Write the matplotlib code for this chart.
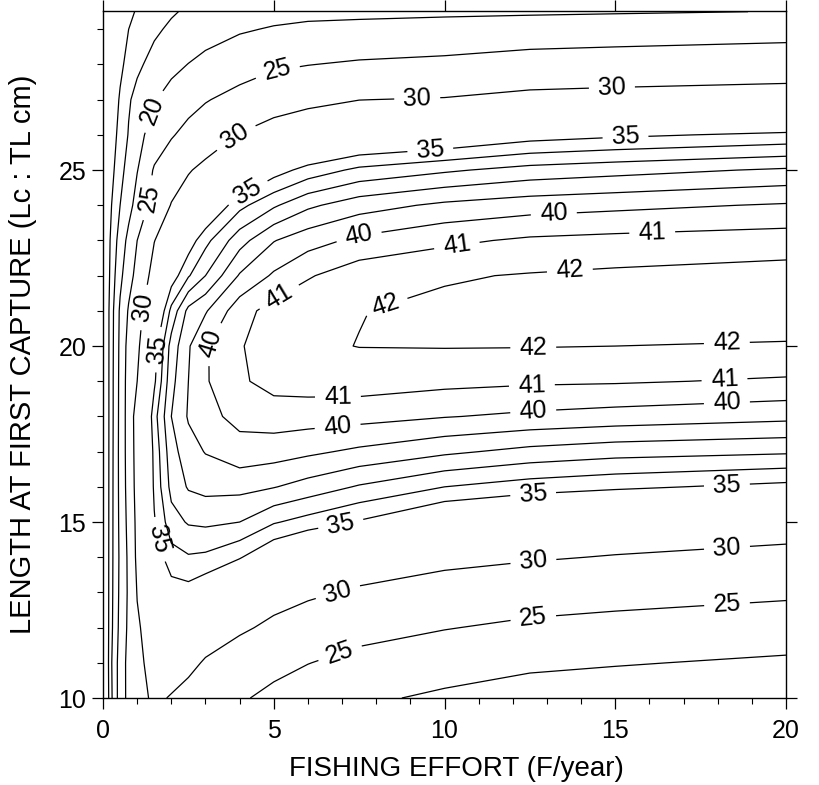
import numpy as np
import matplotlib.pyplot as plt

plt.rcParams['font.family'] = ['Liberation Sans', 'DejaVu Sans']

# fishing effort (F/year) - grid columns
effort = [0, 0.1, 0.25, 0.5, 0.75, 1, 1.5, 2, 2.5, 3, 4, 5, 6, 7.5, 10, 12.5, 15, 20]
# length at first capture (TL cm) - grid rows
lc = [10, 11, 12, 13, 14, 15, 16, 17, 18, 19, 20, 21, 22, 23, 24, 25, 26, 27, 28, 29, 29.5]

ypr = [
    [0, 6.5, 14.5, 22.6, 26.3, 28.4, 30.8, 29.7, 28.6, 27.6, 25.5, 23.9, 22.6, 20.8, 19.2, 17.8, 17.3, 16.2],
    [0, 6.8, 14.8, 22.5, 26.4, 28.8, 31.8, 32.1, 31.0, 29.6, 27.9, 26.3, 25.1, 23.7, 22.1, 20.9, 20.3, 19.3],
    [0, 6.8, 14.2, 21.6, 26.0, 29.4, 32.5, 33.4, 32.9, 32.2, 30.6, 29.2, 28.1, 26.5, 25.2, 24.1, 23.5, 22.5],
    [0, 6.8, 14.0, 21.2, 25.8, 30.2, 33.5, 34.5, 34.6, 34.1, 32.8, 31.5, 30.6, 29.5, 28.2, 27.3, 26.7, 25.75],
    [0, 6.8, 13.9, 21.0, 26.0, 31.0, 34.3, 35.6, 35.9, 35.8, 35.1, 33.9, 33.0, 32.2, 31.07, 30.37, 29.8, 28.9],
    [0, 6.8, 13.8, 21.3, 26.5, 31.2, 34.9, 36.6, 37.1, 37.2, 37.0, 36.1, 35.6, 34.9, 33.6, 33.0, 32.6, 31.85],
    [0, 6.8, 13.7, 21.5, 27.0, 31.6, 35.2, 37.3, 38.1, 38.3, 38.3, 38.05, 37.6, 36.9, 36.0, 35.5, 35.2, 34.7],
    [0, 6.8, 13.6, 21.6, 27.2, 31.8, 35.3, 37.6, 38.6, 39.05, 39.6, 39.45, 39.2, 38.8, 38.2, 37.7, 37.4, 37.15],
    [0, 6.8, 13.5, 21.5, 27.3, 32.0, 35.6, 38.0, 39.1, 39.7, 40.3, 40.5, 40.45, 40.35, 40.05, 39.8, 39.6, 39.28],
    [0, 6.8, 13.5, 21.4, 27.2, 30.0, 34.8, 37.7, 39.0, 39.9, 40.85, 41.35, 41.45, 41.5, 41.28, 41.15, 41.1, 40.87],
    [0, 6.8, 13.4, 21.2, 26.8, 29.3, 34.5, 37.4, 38.9, 39.9, 40.9, 41.65, 41.85, 42.02, 42.05, 42.04, 42.0, 41.93],
    [0, 6.8, 13.3, 20.8, 25.5, 28.5, 33.2, 36.3, 38.3, 38.9, 40.6, 41.4, 41.75, 41.97, 42.23, 42.35, 42.4, 42.45],
    [0, 6.2, 12.4, 18.8, 23.2, 26.5, 31.6, 34.4, 35.9, 37.0, 39.1, 40.15, 40.9, 41.6, 41.9, 42.07, 42.2, 42.42],
    [0, 5.6, 11.8, 17.0, 21.5, 25.0, 29.9, 32.5, 34.4, 35.7, 37.6, 38.95, 39.6, 40.23, 40.79, 41.16, 41.3, 41.48],
    [0, 4.2, 10.0, 15.0, 18.2, 22.0, 26.8, 30.2, 32.0, 33.6, 35.7, 36.85, 37.8, 38.57, 39.21, 39.56, 39.75, 40.1],
    [0, 3.6, 8.6, 13.3, 17.0, 19.8, 25.5, 27.9, 29.7, 31.0, 33.0, 34.5, 35.4, 36.24, 36.84, 37.38, 37.65, 38.14],
    [0, 3.0, 7.2, 12.0, 15.3, 18.5, 22.0, 24.6, 26.4, 27.8, 30.2, 31.69, 32.6, 33.34, 33.77, 34.49, 34.8, 35.24],
    [0, 2.4, 6.0, 10.7, 14.5, 16.4, 19.7, 21.7, 23.4, 24.7, 26.6, 28.23, 29.1, 29.96, 30.25, 31.11, 31.4, 31.76],
    [0, 1.9, 4.8, 8.7, 11.9, 14.1, 16.6, 18.8, 20.1, 21.2, 22.8, 24.29, 24.9, 25.57, 26.12, 27.11, 27.4, 27.95],
    [0, 1.5, 3.8, 7.0, 10.0, 11.8, 14.2, 15.8, 17.1, 18.2, 19.55, 20.35, 20.9, 21.15, 21.62, 22.2, 22.6, 23.2],
    [0, 1.2, 3.0, 6.0, 8.6, 10.6, 12.8, 14.5, 15.7, 16.6, 17.9, 18.6, 18.9, 19.1, 19.3, 19.45, 19.65, 20.1],
]

plain_levels = [10, 15, 36, 37, 38, 39]
labelled = [20, 25, 30, 35, 40, 41, 42]

# where the numbers sit on the isopleths (F, Lc)
label_spots = [
    (1.38, 26.7), (5.1, 27.84), (3.8, 26.05), (1.17, 24.23), (4.2, 24.43),
    (1.17, 21.1), (1.58, 19.9), (3.34, 19.97), (5.18, 21.36), (7.5, 23.1),
    (10.37, 22.8), (8.26, 21.2), (13.67, 22.16), (13.2, 23.78), (16.08, 23.3),
    (9.58, 25.62), (15.3, 25.94), (9.2, 27.07), (14.9, 27.41),
    (12.6, 19.89), (18.27, 20.03), (12.56, 18.84), (18.2, 19.03),
    (6.88, 18.47), (6.88, 17.61), (12.6, 18.1), (18.27, 18.38),
    (6.94, 15.06), (12.6, 15.71), (18.27, 16.05),
    (6.88, 13.0), (12.6, 13.92), (18.27, 14.3),
    (6.94, 11.28), (12.6, 12.27), (18.27, 12.7),
    (1.58, 14.49),
]

F, L = np.meshgrid(effort, lc)
Z = np.array(ypr)

fig = plt.figure(figsize=(8.19, 7.85), dpi=100)
ax = fig.add_axes([0.1258, 0.1108, 0.8339, 0.8752])

ax.contour(F, L, Z, levels=plain_levels, colors='black', linewidths=0.9)
cs = ax.contour(F, L, Z, levels=labelled, colors='black', linewidths=0.9)
ax.clabel(cs, manual=label_spots, fmt='%d', fontsize=18,
          inline=True, inline_spacing=9)

ax.set_xlim(0, 20)
ax.set_ylim(10, 29.52)
ax.set_xticks([0, 5, 10, 15, 20])
ax.set_xticks(np.arange(0, 21, 1), minor=True)
ax.set_yticks([10, 15, 20, 25])
ax.set_yticks(np.arange(10, 30, 1), minor=True)
ax.tick_params(which='major', direction='out', length=8, width=0.9, labelsize=18,
               top=True, right=True, pad=4)
ax.tick_params(axis='x', which='major', pad=7)
ax.tick_params(which='minor', direction='out', length=4.5, width=0.8, top=False, right=False)
for sp in ax.spines.values():
    sp.set_linewidth(1.0)

ax.set_xlabel('FISHING EFFORT (F/year)', fontsize=20)
ax.set_ylabel('LENGTH AT FIRST CAPTURE (Lc : TL cm)', fontsize=21)
ax.xaxis.set_label_coords(0.517, -0.084)
ax.yaxis.set_label_coords(-0.097, 0.5)

fig.savefig('out.png', dpi=100)
